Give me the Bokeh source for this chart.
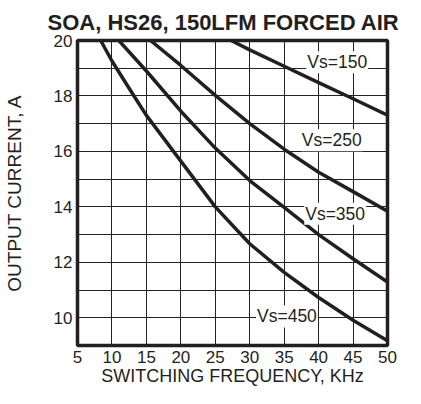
from bokeh.plotting import figure
from bokeh.models import FixedTicker, Range1d, ColumnDataSource
from bokeh.core.properties import value
from bokeh.embed import file_html
from bokeh.resources import INLINE

# ---- data ----
title_text = "SOA, HS26, 150LFM FORCED AIR"
x_label = "SWITCHING FREQUENCY, KHz"
y_label = "OUTPUT CURRENT, A"

x_ticks = [5, 10, 15, 20, 25, 30, 35, 40, 45, 50]
y_ticks = [10, 12, 14, 16, 18, 20]
y_grid = [9, 10, 11, 12, 13, 14, 15, 16, 17, 18, 19, 20]

freq_150 = [27.3, 30, 35, 40, 45, 50]
cur_150 = [20.0, 19.66, 19.07, 18.48, 17.9, 17.31]

freq_250 = [15.6, 20, 25, 30, 35, 40, 45, 50]
cur_250 = [20.0, 19.1, 18.02, 17.0, 16.08, 15.25, 14.55, 13.84]

freq_350 = [11.0, 15, 20, 25, 30, 35, 40, 45, 50]
cur_350 = [20.0, 18.9, 17.45, 16.12, 14.95, 13.98, 13.0, 12.13, 11.29]

freq_450 = [8.37, 10, 13.2, 15, 20, 25, 30, 35, 40, 45, 50]
cur_450 = [20.0, 19.26, 18.0, 17.3, 15.65, 14.0, 12.67, 11.64, 10.73, 9.91, 9.17]

curve_names = ["Vs=150", "Vs=250", "Vs=350", "Vs=450"]

# ---- styling / placement ----
INK = "#231f20"
FONT = "Liberation Sans"

p = figure(width=405, height=388, x_range=Range1d(5, 50), y_range=Range1d(9, 20),
           output_backend="svg", toolbar_location=None,
           min_border_left=76, min_border_right=18, min_border_top=40, min_border_bottom=40)

p.title.text = title_text
p.title.align = "left"
p.title.offset = -30
p.title.standoff = 12
p.title.text_font = FONT
p.title.text_font_size = "22px"
p.title.text_font_style = "bold"
p.title.text_color = INK

p.outline_line_color = INK
p.outline_line_width = 3.5
p.background_fill_color = "white"
p.border_fill_color = "white"

p.xaxis.ticker = FixedTicker(ticks=x_ticks)
p.yaxis.ticker = FixedTicker(ticks=y_ticks)
p.xgrid.ticker = FixedTicker(ticks=x_ticks)
p.ygrid.ticker = FixedTicker(ticks=y_grid)
for g in (p.xgrid, p.ygrid):
    g.grid_line_color = "#222222"
    g.grid_line_width = 1

for ax in (p.xaxis, p.yaxis):
    ax.axis_line_color = None
    ax.major_tick_line_color = None
    ax.minor_tick_line_color = None
    ax.major_tick_out = 0
    ax.major_tick_in = 0
    ax.minor_tick_out = 0
    ax.major_label_text_font = FONT
    ax.major_label_text_font_size = "17px"
    ax.major_label_text_color = INK
    ax.axis_label_text_font = FONT
    ax.axis_label_text_font_style = "normal"
    ax.axis_label_text_color = INK

p.xaxis.major_label_standoff = 5
p.xaxis.axis_label = x_label
p.xaxis.axis_label_text_font_size = "18px"
p.xaxis.axis_label_standoff = 0

p.yaxis.major_label_standoff = 5
p.yaxis.axis_label = y_label
p.yaxis.axis_label_text_font_size = "19px"
p.yaxis.axis_label_standoff = 26

for fx, cy in ((freq_150, cur_150), (freq_250, cur_250), (freq_350, cur_350), (freq_450, cur_450)):
    p.line(fx, cy, line_width=3.5, line_color=INK, line_join="round")

lab_x = [42.7, 41.9, 42.4, 35.4]
lab_y = [19.22, 16.40, 13.75, 10.05]
src = ColumnDataSource(dict(x=lab_x, y=lab_y, t=curve_names))
p.text(x="x", y="y", text="t", source=src, text_align="center", text_baseline="middle",
       text_font=value(FONT), text_font_size="17.5px", text_color=INK,
       background_fill_color="white", padding=1)

open("out.html", "w").write(file_html(p, INLINE))
